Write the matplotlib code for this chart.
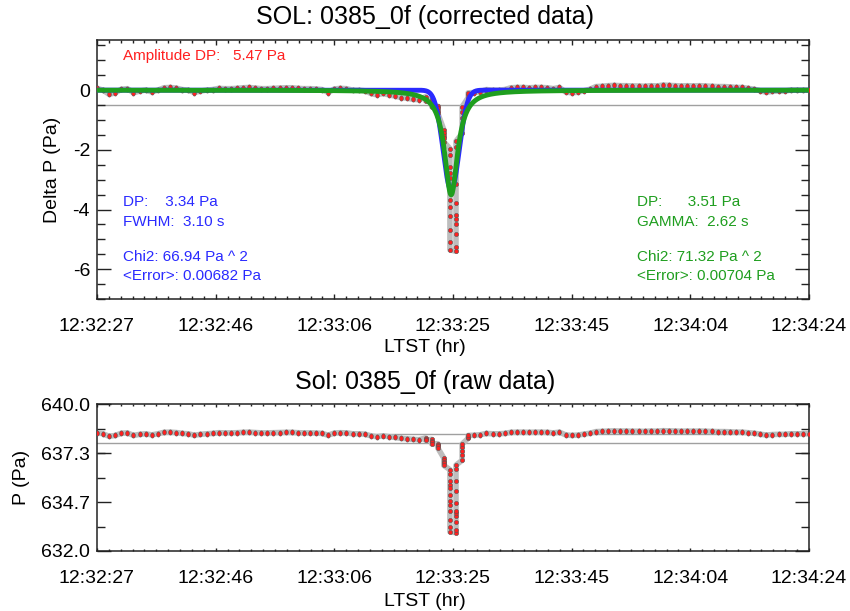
"""
Pressure drop event, sol 0385: detrended signal with Gaussian / Lorentzian
fits on top, raw pressure below.
"""

import numpy as np
import matplotlib
matplotlib.use('Agg')
import matplotlib.pyplot as plt
from matplotlib.ticker import FixedLocator, AutoMinorLocator
from matplotlib.path import Path
from matplotlib.markers import MarkerStyle
from matplotlib.transforms import Affine2D

plt.rcParams['font.family'] = ['Liberation Sans', 'DejaVu Sans']
plt.rcParams['axes.unicode_minus'] = False

# Delta P (Pa), one value per second from 12:32:27 (t = 0 .. 53)
dp_before = [0.06, 0.00, -0.14, -0.09, 0.03, 0.05, -0.09, -0.03, 0.00, -0.06,
             0.00, 0.08, 0.09, 0.07, 0.02, 0.00, -0.08, -0.03, 0.00, 0.02,
             0.06, 0.05, 0.05, 0.06, 0.08, 0.09, 0.07, 0.05, 0.05, 0.06,
             0.07, 0.08, 0.08, 0.06, 0.05, 0.05, 0.04, 0.02, -0.08, 0.04,
             0.06, 0.05, 0.00, 0.00, -0.02, -0.11, -0.16, -0.11, -0.16, -0.20,
             -0.25, -0.27, -0.31, -0.32]

# seconds 54 .. 61: all samples recorded within each second
dp_dip = [
    [-0.22, -0.30, -0.36],
    [-0.30, -0.38, -0.46, -0.55],
    [-0.54, -0.61, -0.69, -0.77],
    [-1.33, -1.43, -1.52, -1.62, -1.73],
    [-1.96, -2.18, -2.58, -2.79, -2.96, -3.34, -3.69, -3.91, -4.22, -4.70,
     -5.09, -5.35],
    [-5.40, -5.26, -4.81, -4.47, -4.31, -4.20, -3.78, -3.13, -2.56, -1.90,
     -1.71],
    [-1.45, -1.18, -0.93, -0.74, -0.56],
    [-0.25, -0.16, -0.09],
]

# seconds 62 .. 117
dp_after = [-0.08, -0.05, 0.02, 0.00, 0.00, 0.02, 0.08, 0.09, 0.09, 0.08,
            0.09, 0.09, 0.08, 0.05, 0.09, -0.06, -0.09, -0.07, -0.02, 0.03,
            0.12, 0.13, 0.15, 0.16, 0.15, 0.15, 0.14, 0.14, 0.13, 0.15,
            0.14, 0.17, 0.16, 0.15, 0.14, 0.15, 0.14, 0.15, 0.14, 0.13,
            0.12, 0.12, 0.11, 0.09, 0.09, 0.06, 0.03, -0.02, -0.07, -0.04,
            -0.03, -0.03, 0.00, 0.00, 0.00, 0.00]

p_background = 638.4      # Pa, level removed to get Delta P
threshold = -0.5          # Pa

amp_dp = 5.47
gauss_dp, gauss_fwhm = 3.34, 3.10
gauss_chi2, gauss_err = 66.94, 0.00682
lor_dp, lor_gamma = 3.51, 2.62    # gamma = full width at half depth
lor_chi2, lor_err = 71.32, 0.00704
fit_center = 58.2         # s

time_ticks = [0, 19.5, 39, 58.5, 78, 97.5, 117]
time_labels = ['12:32:27', '12:32:46', '12:33:06', '12:33:25',
               '12:33:45', '12:34:04', '12:34:24']
dp_ticks = [0, -2, -4, -6]
p_ticks = [632.0, 634.6667, 637.3333, 640.0]
p_labels = ['632.0', '634.7', '637.3', '640.0']

RED = '#ff2020'
BLUE = '#2a2aff'
GREEN = '#1f9e1f'
GRAY = '#bdbdbd'

W, H = 850, 611


def build_series():
    t, dp, single = [], [], []
    for i, v in enumerate(dp_before):
        t.append(i); dp.append(v); single.append(True)
    for j, group in enumerate(dp_dip):
        sec = len(dp_before) + j
        for v in group:
            t.append(sec); dp.append(v); single.append(False)
    for k, v in enumerate(dp_after):
        sec = len(dp_before) + len(dp_dip) + k
        t.append(sec); dp.append(v); single.append(True)
    return np.array(t, float), np.array(dp), np.array(single)


# slightly tall dot for the 1-sample seconds
tall_dot = MarkerStyle(Path.unit_circle().transformed(Affine2D().scale(0.7, 1.0)))


def draw_samples(ax, t, y, single):
    ax.plot(t, y, color=GRAY, linewidth=4, solid_joinstyle='round', zorder=2)
    ax.scatter(t[single], y[single], s=14, marker=tall_dot, color=RED,
               edgecolors='#555555', linewidths=0.4, zorder=3)
    ax.scatter(t[~single], y[~single], s=9, color=RED,
               edgecolors='#555555', linewidths=0.4, zorder=3)


def style_axes(ax, x_major_len, x_minor_len):
    for sp in ax.spines.values():
        sp.set_linewidth(1.1)
        sp.set_color('#222222')
    ax.tick_params(which='both', direction='in', top=True, right=True,
                   labelsize=14, color='#222222', width=1.0)
    ax.tick_params(axis='y', which='major', length=10, pad=5)
    ax.tick_params(axis='y', which='minor', length=5.5)
    ax.tick_params(axis='x', which='major', length=x_major_len, pad=14)
    ax.tick_params(axis='x', which='minor', length=x_minor_len)
    ax.xaxis.set_major_locator(FixedLocator(time_ticks))
    ax.set_xticklabels(time_labels)
    ax.xaxis.set_minor_locator(AutoMinorLocator(10))
    ax.set_xlim(time_ticks[0], time_ticks[-1])


t, dp, single = build_series()
p_raw = p_background + dp

tt = np.linspace(time_ticks[0], time_ticks[-1], 3000)
gauss_fit = -gauss_dp * np.exp(-4 * np.log(2) * (tt - fit_center) ** 2 / gauss_fwhm ** 2)
lor_fit = -lor_dp / (1 + (2 * (tt - fit_center) / lor_gamma) ** 2)

fig = plt.figure(figsize=(W / 100, H / 100), dpi=100)
ax1 = fig.add_axes([0.1141, 0.5106, 0.8376, 0.4239])
ax2 = fig.add_axes([0.1141, 0.0982, 0.8376, 0.2398])

# corrected data
ax1.axhline(threshold, color='#a0a0a0', linewidth=1.0, zorder=1)
draw_samples(ax1, t, dp, single)
ax1.plot(tt, gauss_fit, color=BLUE, linewidth=3.5, zorder=4)
ax1.plot(tt, lor_fit, color=GREEN, linewidth=3.5, zorder=5)
style_axes(ax1, 3.6, 2.2)
ax1.set_ylim(-7.0, 1.68)
ax1.yaxis.set_major_locator(FixedLocator(dp_ticks))
ax1.yaxis.set_minor_locator(AutoMinorLocator(4))
ax1.set_ylabel('Delta P (Pa)', fontsize=14, labelpad=8)

ax1.text(0.037, 0.938, f'Amplitude DP:   {amp_dp:.2f} Pa', color=RED,
         fontsize=11, transform=ax1.transAxes, va='center')
blue_lines = [(0.3745, f'DP:    {gauss_dp:.2f} Pa'),
              (0.297, f'FWHM:  {gauss_fwhm:.2f} s'),
              (0.162, f'Chi2: {gauss_chi2:.2f} Pa ^ 2'),
              (0.089, f'<Error>: {gauss_err:.5f} Pa')]
green_lines = [(0.3745, f'DP:      {lor_dp:.2f} Pa'),
               (0.297, f'GAMMA:  {lor_gamma:.2f} s'),
               (0.162, f'Chi2: {lor_chi2:.2f} Pa ^ 2'),
               (0.089, f'<Error>: {lor_err:.5f} Pa')]
for yy, s in blue_lines:
    ax1.text(0.037, yy, s, color=BLUE, fontsize=11, transform=ax1.transAxes, va='center')
for yy, s in green_lines:
    ax1.text(0.758, yy, s, color=GREEN, fontsize=11, transform=ax1.transAxes, va='center')

# raw data
ax2.axhline(p_background, color='#a0a0a0', linewidth=1.0, zorder=1)
ax2.axhline(p_background + threshold, color='#a0a0a0', linewidth=1.0, zorder=1)
draw_samples(ax2, t, p_raw, single)
style_axes(ax2, 2.2, 1.4)
ax2.set_ylim(p_ticks[0], p_ticks[-1])
ax2.yaxis.set_major_locator(FixedLocator(p_ticks))
ax2.set_yticklabels(p_labels)
ax2.yaxis.set_minor_locator(AutoMinorLocator(2))
ax2.set_ylabel('P (Pa)', fontsize=14, labelpad=8)

# titles and time labels are centred on the page
fig.text(0.5, 1 - 17 / H, 'SOL: 0385_0f (corrected data)', fontsize=18,
         ha='center', va='center')
fig.text(0.5, 1 - 382 / H, 'Sol: 0385_0f (raw data)', fontsize=18,
         ha='center', va='center')
fig.text(0.5, 1 - 348 / H, 'LTST (hr)', fontsize=14, ha='center', va='center')
fig.text(0.5, 1 - 601 / H, 'LTST (hr)', fontsize=14, ha='center', va='center')

fig.savefig('out.png', dpi=100)
